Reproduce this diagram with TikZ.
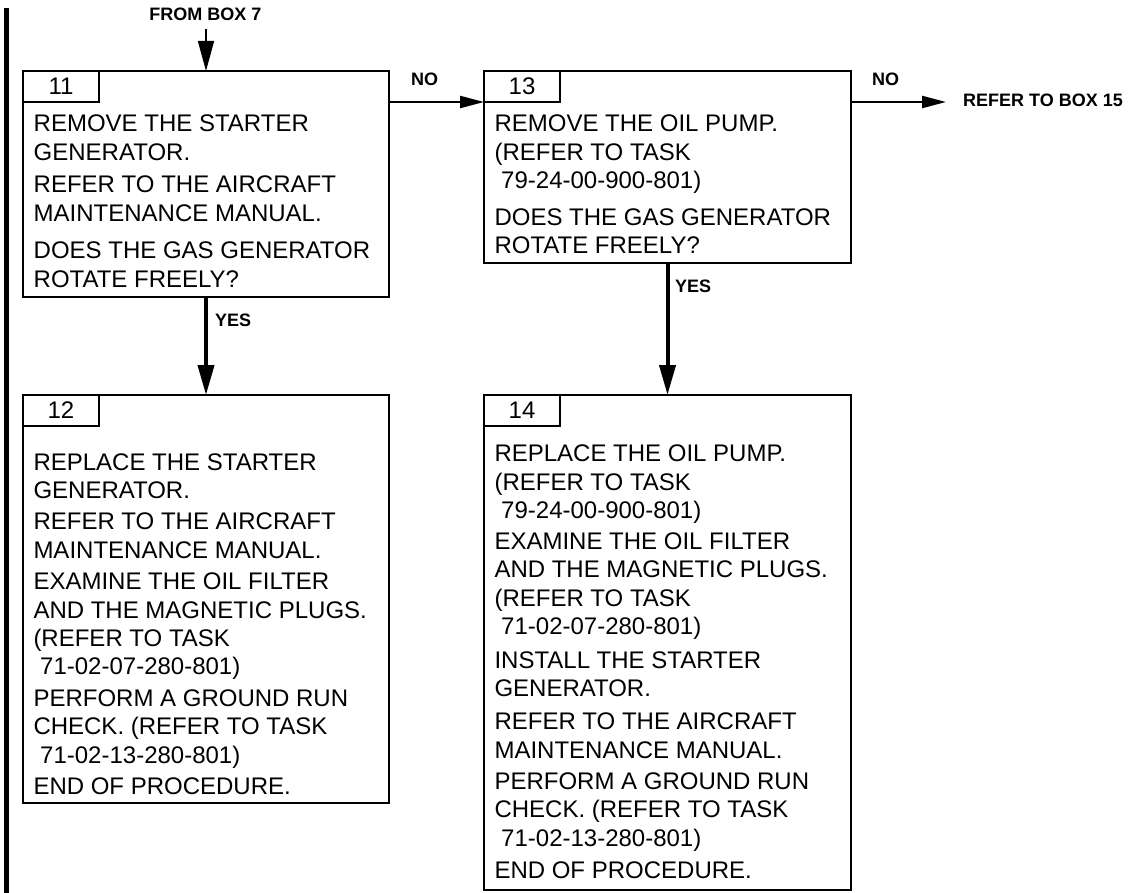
\documentclass[tikz,border=0pt]{standalone}
\usepackage{fontspec}
\setmainfont{Liberation Sans}
\usetikzlibrary{arrows.meta}
\newcommand{\ind}{\hspace*{0.28em}}
\begin{document}
\begin{tikzpicture}[x=1pt,y=-1pt,
  box/.style={draw, line width=2.6pt, anchor=north west, outer sep=0pt, inner sep=0pt},
  tab/.style={draw, line width=2.6pt, anchor=north west, outer sep=0pt, inner sep=0pt,
    minimum width=76pt, minimum height=31pt, font=\fontsize{24pt}{28pt}\selectfont},
  body/.style={anchor=base west, inner sep=0pt, font=\fontsize{24pt}{28.35pt}\selectfont},
  lbl/.style={inner sep=0pt, font=\bfseries\fontsize{18pt}{20pt}\selectfont},
  fromarrow/.style={line width=1.5pt, -{Triangle[length=30pt,width=16pt]}},
  thinarrow/.style={line width=2.2pt, -{Triangle[length=24pt,width=12pt]}},
  thickarrow/.style={line width=4pt, -{Triangle[length=30pt,width=16pt]}},
]
\useasboundingbox (0,0) rectangle (1131,893);
% left margin bar
\draw[line width=5pt] (6.5,8) -- (6.5,893);

% boxes
\node[box, minimum width=366pt, minimum height=226pt] (b11) at (23,71) {};
\node[box, minimum width=367pt, minimum height=192pt] (b13) at (484,71) {};
\node[box, minimum width=366pt, minimum height=408pt] (b12) at (23,395) {};
\node[box, minimum width=367pt, minimum height=495pt] (b14) at (484,395) {};

% tabs
\node[tab] (t11) at (23,71) {11};
\node[tab] (t13) at (484,71) {13};
\node[tab] (t12) at (23,395) {12};
\node[tab] (t14) at (484,395) {14};

% texts
\node[body, font=\fontsize{24pt}{29.3pt}\selectfont] (x11) at (33.5,131.7) {\begin{tabular}[t]{@{}l@{}}
REMOVE THE STARTER\\
GENERATOR.\\[2pt]
REFER TO THE AIRCRAFT\\
MAINTENANCE MANUAL.\\[7.3pt]
DOES THE GAS GENERATOR\\
ROTATE FREELY?
\end{tabular}};

\node[body, font=\fontsize{24pt}{28.5pt}\selectfont] (x13) at (494.3,131.7) {\begin{tabular}[t]{@{}l@{}}
REMOVE THE OIL PUMP.\\
(REFER TO TASK\\
\ind 79-24-00-900-801)\\[8.2pt]
DOES THE GAS GENERATOR\\
ROTATE FREELY?
\end{tabular}};

\node[body] (x12) at (33.3,470) {\begin{tabular}[t]{@{}l@{}}
REPLACE THE STARTER\\
GENERATOR.\\[3.2pt]
REFER TO THE AIRCRAFT\\
MAINTENANCE MANUAL.\\[3.2pt]
EXAMINE THE OIL FILTER\\
AND THE MAGNETIC PLUGS.\\
(REFER TO TASK\\
\ind 71-02-07-280-801)\\[3.2pt]
PERFORM A GROUND RUN\\
CHECK. (REFER TO TASK\\
\ind 71-02-13-280-801)\\[3.2pt]
END OF PROCEDURE.
\end{tabular}};

\node[body] (x14) at (494.3,461.7) {\begin{tabular}[t]{@{}l@{}}
REPLACE THE OIL PUMP.\\
(REFER TO TASK\\
\ind 79-24-00-900-801)\\[2.7pt]
EXAMINE THE OIL FILTER\\
AND THE MAGNETIC PLUGS.\\
(REFER TO TASK\\
\ind 71-02-07-280-801)\\[5.4pt]
INSTALL THE STARTER\\
GENERATOR.\\[5pt]
REFER TO THE AIRCRAFT\\
MAINTENANCE MANUAL.\\[2.7pt]
PERFORM A GROUND RUN\\
CHECK. (REFER TO TASK\\
\ind 71-02-13-280-801)\\[4pt]
END OF PROCEDURE.
\end{tabular}};

% labels
\node[lbl, anchor=base] (from7) at (205.5,20.7) {FROM BOX 7};
\node[lbl, anchor=base] (no1) at (424.5,86) {NO};
\node[lbl, anchor=base] (no2) at (885.5,86) {NO};
\node[lbl, anchor=base west] (ref15) at (963,107) {REFER TO BOX 15};
\node[lbl, anchor=base west] (yes1) at (215,326) {YES};
\node[lbl, anchor=base west] (yes2) at (675,292.3) {YES};

% connectors
\draw[fromarrow] (b11.north |- from7.south) ++(0,8) -- (b11.north);
\draw[thinarrow] (b11.east |- t13.south) -- (t13.south west);
\draw[thinarrow, shorten >=17pt] (b13.east |- t13.south) -- (ref15.west |- t13.south);
\draw[thickarrow] (b11.south) -- (b12.north);
\draw[thickarrow] (b13.south) -- (b14.north);
\end{tikzpicture}
\end{document}
